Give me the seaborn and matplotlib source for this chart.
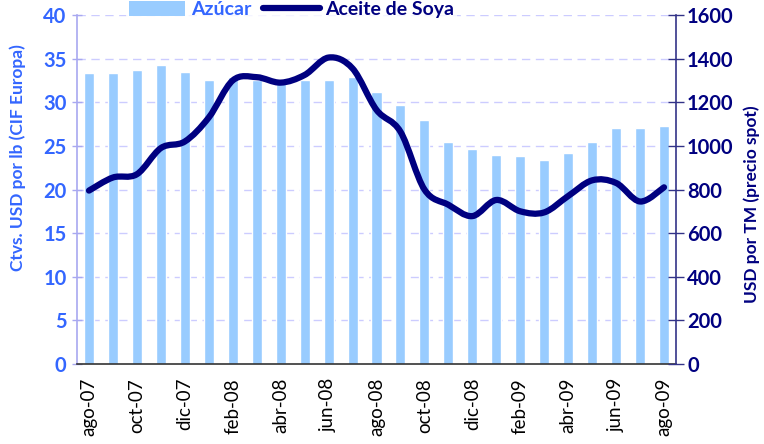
import matplotlib
matplotlib.use("Agg")
import matplotlib.pyplot as plt
import seaborn as sns
import numpy as np
import pandas as pd
from matplotlib.path import Path
from matplotlib.patches import PathPatch, Patch
from matplotlib.lines import Line2D

months = ["ago-07", "sep-07", "oct-07", "nov-07", "dic-07", "ene-08", "feb-08", "mar-08",
          "abr-08", "may-08", "jun-08", "jul-08", "ago-08", "sep-08", "oct-08", "nov-08",
          "dic-08", "ene-09", "feb-09", "mar-09", "abr-09", "may-09", "jun-09", "jul-09", "ago-09"]
azucar = [33.3, 33.4, 33.7, 34.3, 33.5, 32.6, 32.9, 32.6, 32.3, 32.6, 32.5, 32.9, 31.2,
          29.7, 28.0, 25.4, 24.6, 23.9, 23.8, 23.4, 24.2, 25.4, 27.0, 27.0, 27.3]
soya = [795, 855, 870, 990, 1020, 1130, 1300, 1315, 1290, 1325, 1405, 1355, 1165,
        1065, 800, 730, 678, 752, 700, 695, 770, 842, 830, 745, 810]
left_ticks = [0, 5, 10, 15, 20, 25, 30, 35, 40]
right_ticks = [0, 200, 400, 600, 800, 1000, 1200, 1400, 1600]
xtick_labels = months[::2]

BAR = "#99CCFF"
NAVY = "#000080"
BLUE = "#3366FF"
LAV = "#A8A8F0"
GRID = "#CCCCFF"
FONT = "Lato"

sns.set_theme(style="white")
plt.rcParams['font.family'] = [FONT, 'DejaVu Sans']

fig = plt.figure(figsize=(7.64, 4.44), dpi=100)
ax = fig.add_axes([77/764, 1-364/444, (676-77)/764, (364-15)/444])

df = pd.DataFrame({"mes": months, "azucar": azucar})
sns.barplot(data=df, x="mes", y="azucar", color=BAR, width=0.42, saturation=1,
            ax=ax, zorder=2)
ax.set_xlim(-0.5, len(months)-0.5)
ax.set_ylim(0, 40)
ax.set_yticks(left_ticks)
ax.set_yticklabels([str(t) for t in left_ticks], color=BLUE, fontweight="bold", fontsize=14.5)
ax.set_xlabel("")
ax.set_ylabel("")
for y in left_ticks[1:]:
    ax.axhline(y, color=GRID, lw=1, ls=(0, (6, 4)), zorder=0)

# x ticks at category boundaries (minor), labels every other category
ax.set_xticks(range(0, len(months), 2))
ax.set_xticklabels(xtick_labels, rotation=90, fontsize=13.5, color="black")
ax.tick_params(axis="x", which="major", length=0, pad=10)
ax.set_xticks(np.arange(-0.5, len(months)), minor=True)
ax.tick_params(axis="x", which="minor", length=7, width=1, color="#333333", direction="out")
ax.tick_params(axis="y", length=7, width=1, color=LAV, direction="inout", pad=4)

for s in ["top", "right"]:
    ax.spines[s].set_visible(False)
ax.spines["left"].set_color(LAV)
ax.spines["left"].set_linewidth(1.2)
ax.spines["bottom"].set_color("#333333")
ax.spines["bottom"].set_linewidth(1.2)

ax2 = ax.twinx()
ax2.set_ylim(0, 1600)
ax2.set_yticks(right_ticks)
ax2.set_yticklabels([str(t) for t in right_ticks], color=NAVY, fontweight="bold", fontsize=14.5)
ax2.tick_params(axis="y", length=12, width=1, color="#333388", direction="inout", pad=2)
for s in ["top", "left", "bottom"]:
    ax2.spines[s].set_visible(False)
ax2.spines["right"].set_color("#333388")
ax2.spines["right"].set_linewidth(1.2)
ax2.grid(False)

# smoothed line (Bezier, Excel-like smoothing) in data coordinates
xs = np.arange(len(soya), dtype=float)
ys = np.array(soya, dtype=float)
pts = np.column_stack([xs, ys])
verts = [tuple(pts[0])]
codes = [Path.MOVETO]
n = len(pts)
for i in range(n-1):
    p0 = pts[i-1] if i > 0 else pts[i]
    p1 = pts[i]
    p2 = pts[i+1]
    p3 = pts[i+2] if i+2 < n else pts[i+1]
    c1 = p1 + (p2 - p0) / 6.0
    c2 = p2 - (p3 - p1) / 6.0
    verts += [tuple(c1), tuple(c2), tuple(p2)]
    codes += [Path.CURVE4]*3
path = Path(verts, codes)
ax2.add_patch(PathPatch(path, facecolor="none", edgecolor=NAVY, lw=4.5,
                        capstyle="round", joinstyle="round", zorder=3))

fig.text(18/764, 1-158/444, "Ctvs. USD por lb (CIF Europa)", rotation=90, color=BLUE,
         fontweight="bold", fontsize=12.5, ha="center", va="center")
fig.text(752/764, 1-303/444, "USD por TM (precio spot)", rotation=90, color=NAVY,
         fontweight="bold", fontsize=12.5, ha="center", va="bottom")

handles = [Patch(facecolor=BAR, edgecolor="none"),
           Line2D([0], [0], color=NAVY, lw=4.5, solid_capstyle="round")]
leg = fig.legend(handles, ["Azúcar", "Aceite de Soya"], loc="upper left",
                 bbox_to_anchor=(126/764, 1.0+2/444), ncol=2, frameon=True, fontsize=14,
                 handlelength=2.9, handleheight=0.8, handletextpad=0.3, columnspacing=0.6,
                 borderpad=0.15, fancybox=False, borderaxespad=0)
leg.get_frame().set_facecolor("white")
leg.get_frame().set_edgecolor("none")
for t, c in zip(leg.get_texts(), [BLUE, NAVY]):
    t.set_color(c)
    t.set_fontweight("bold")

fig.savefig("out.png", dpi=100)
